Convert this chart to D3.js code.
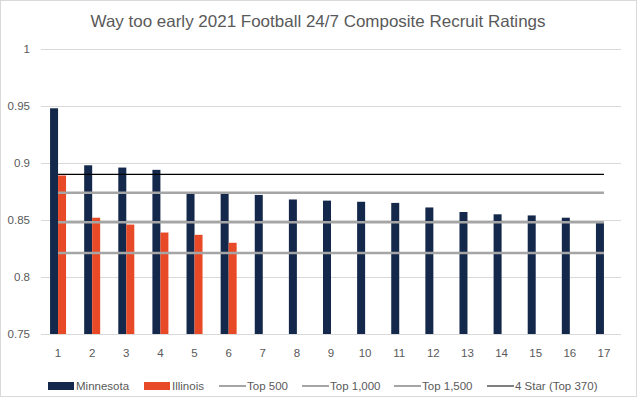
<!DOCTYPE html>
<html><head><meta charset="utf-8">
<script src="https://cdn.jsdelivr.net/npm/d3@7"></script>
<style>html,body{margin:0;padding:0;background:#fff;}svg{display:block;font-family:"Liberation Sans",Arial,sans-serif;}</style>
</head><body>
<svg id="c" width="637" height="397"></svg>
<script>
const categories = ["1","2","3","4","5","6","7","8","9","10","11","12","13","14","15","16","17"];
const minnesota = [0.948,0.898,0.896,0.894,0.873,0.873,0.872,0.868,0.867,0.866,0.865,0.861,0.857,0.855,0.854,0.852,0.848];
const illinois = [0.889,0.852,0.846,0.839,0.837,0.830];
const refNames = ["Top 500","Top 1,000","Top 1,500","4 Star (Top 370)"];
const refValues = [0.874,0.848,0.821,0.890];
const yTicks = [0.75,0.8,0.85,0.9,0.95,1];
const title = "Way too early 2021 Football 24/7 Composite Recruit Ratings";

const colors = {Minnesota:"#14284B", Illinois:"#E84A27"};
const refColors = ["#A5A5A5","#A5A5A5","#A5A5A5","#000000"];
const refWidths = [2.5,2.5,2.5,1.25];

const svg = d3.select("#c");
svg.append("rect").attr("x",0.5).attr("y",0.5).attr("width",636).attr("height",396)
  .attr("fill","#fff").attr("stroke","#D9D9D9");

svg.append("text").attr("x",318).attr("y",27).attr("text-anchor","middle")
  .attr("font-size",16.5).attr("fill","#595959").attr("textLength",455).attr("lengthAdjust","spacingAndGlyphs").text(title);

const x = d3.scaleBand().domain(categories).range([41,621]).padding(0);
const bw = x.bandwidth();
const xs = d3.scaleBand().domain(["Minnesota","Illinois"]).range([bw/2-8, bw/2+8]).padding(0);
const y = d3.scaleLinear().domain([0.75,1]).range([334,49]);

// gridlines
svg.append("g").selectAll("line").data(yTicks).join("line")
  .attr("x1",41).attr("x2",621).attr("y1",d=>Math.round(y(d))+0.5).attr("y2",d=>Math.round(y(d))+0.5)
  .attr("stroke","#D9D9D9").attr("stroke-width",1);

// y labels
svg.append("g").selectAll("text").data(yTicks).join("text")
  .attr("x",30).attr("y",d=>y(d)+4).attr("text-anchor","end").attr("font-size",11.5).attr("fill","#595959")
  .text(d=>d3.format("")(d));

// x labels
svg.append("g").selectAll("text").data(categories).join("text")
  .attr("x",d=>x(d)+bw/2).attr("y",357).attr("text-anchor","middle").attr("font-size",11.5).attr("fill","#595959")
  .text(d=>d);

// bars
const series = [{name:"Minnesota",vals:minnesota},{name:"Illinois",vals:illinois}];
series.forEach(s=>{
  svg.append("g").selectAll("rect").data(s.vals).join("rect")
    .attr("x",(d,i)=>x(categories[i])+xs(s.name)).attr("width",xs.bandwidth())
    .attr("y",d=>y(d)).attr("height",d=>y(0.75)-y(d)).attr("fill",colors[s.name]);
});

// reference lines
const xa = x(categories[0])+bw/2, xb = x(categories[categories.length-1])+bw/2;
refValues.forEach((v,i)=>{
  svg.append("line").attr("x1",xa).attr("x2",xb).attr("y1",y(v)).attr("y2",y(v))
    .attr("stroke",refColors[i]).attr("stroke-width",refWidths[i]);
});

// legend
const ly = 386;
const legendItems = [
  {type:"rect",color:colors.Minnesota,label:"Minnesota",x:48},
  {type:"rect",color:colors.Illinois,label:"Illinois",x:144},
  {type:"line",color:refColors[0],w:refWidths[0]-0.5,label:refNames[0],x:219},
  {type:"line",color:refColors[1],w:refWidths[1]-0.5,label:refNames[1],x:302},
  {type:"line",color:refColors[2],w:refWidths[2]-0.5,label:refNames[2],x:394},
  {type:"line",color:refColors[3],w:refWidths[3]-0.25,label:refNames[3],x:487}
];
const lg = svg.append("g");
legendItems.forEach(it=>{
  if(it.type==="rect") lg.append("rect").attr("x",it.x).attr("y",ly-4).attr("width",26).attr("height",8).attr("fill",it.color);
  else lg.append("line").attr("x1",it.x).attr("x2",it.x+27).attr("y1",ly).attr("y2",ly).attr("stroke",it.color).attr("stroke-width",it.w);
  lg.append("text").attr("x",it.x+28).attr("y",ly+4).attr("font-size",11.5).attr("fill","#595959").text(it.label);
});
</script>
</body></html>
